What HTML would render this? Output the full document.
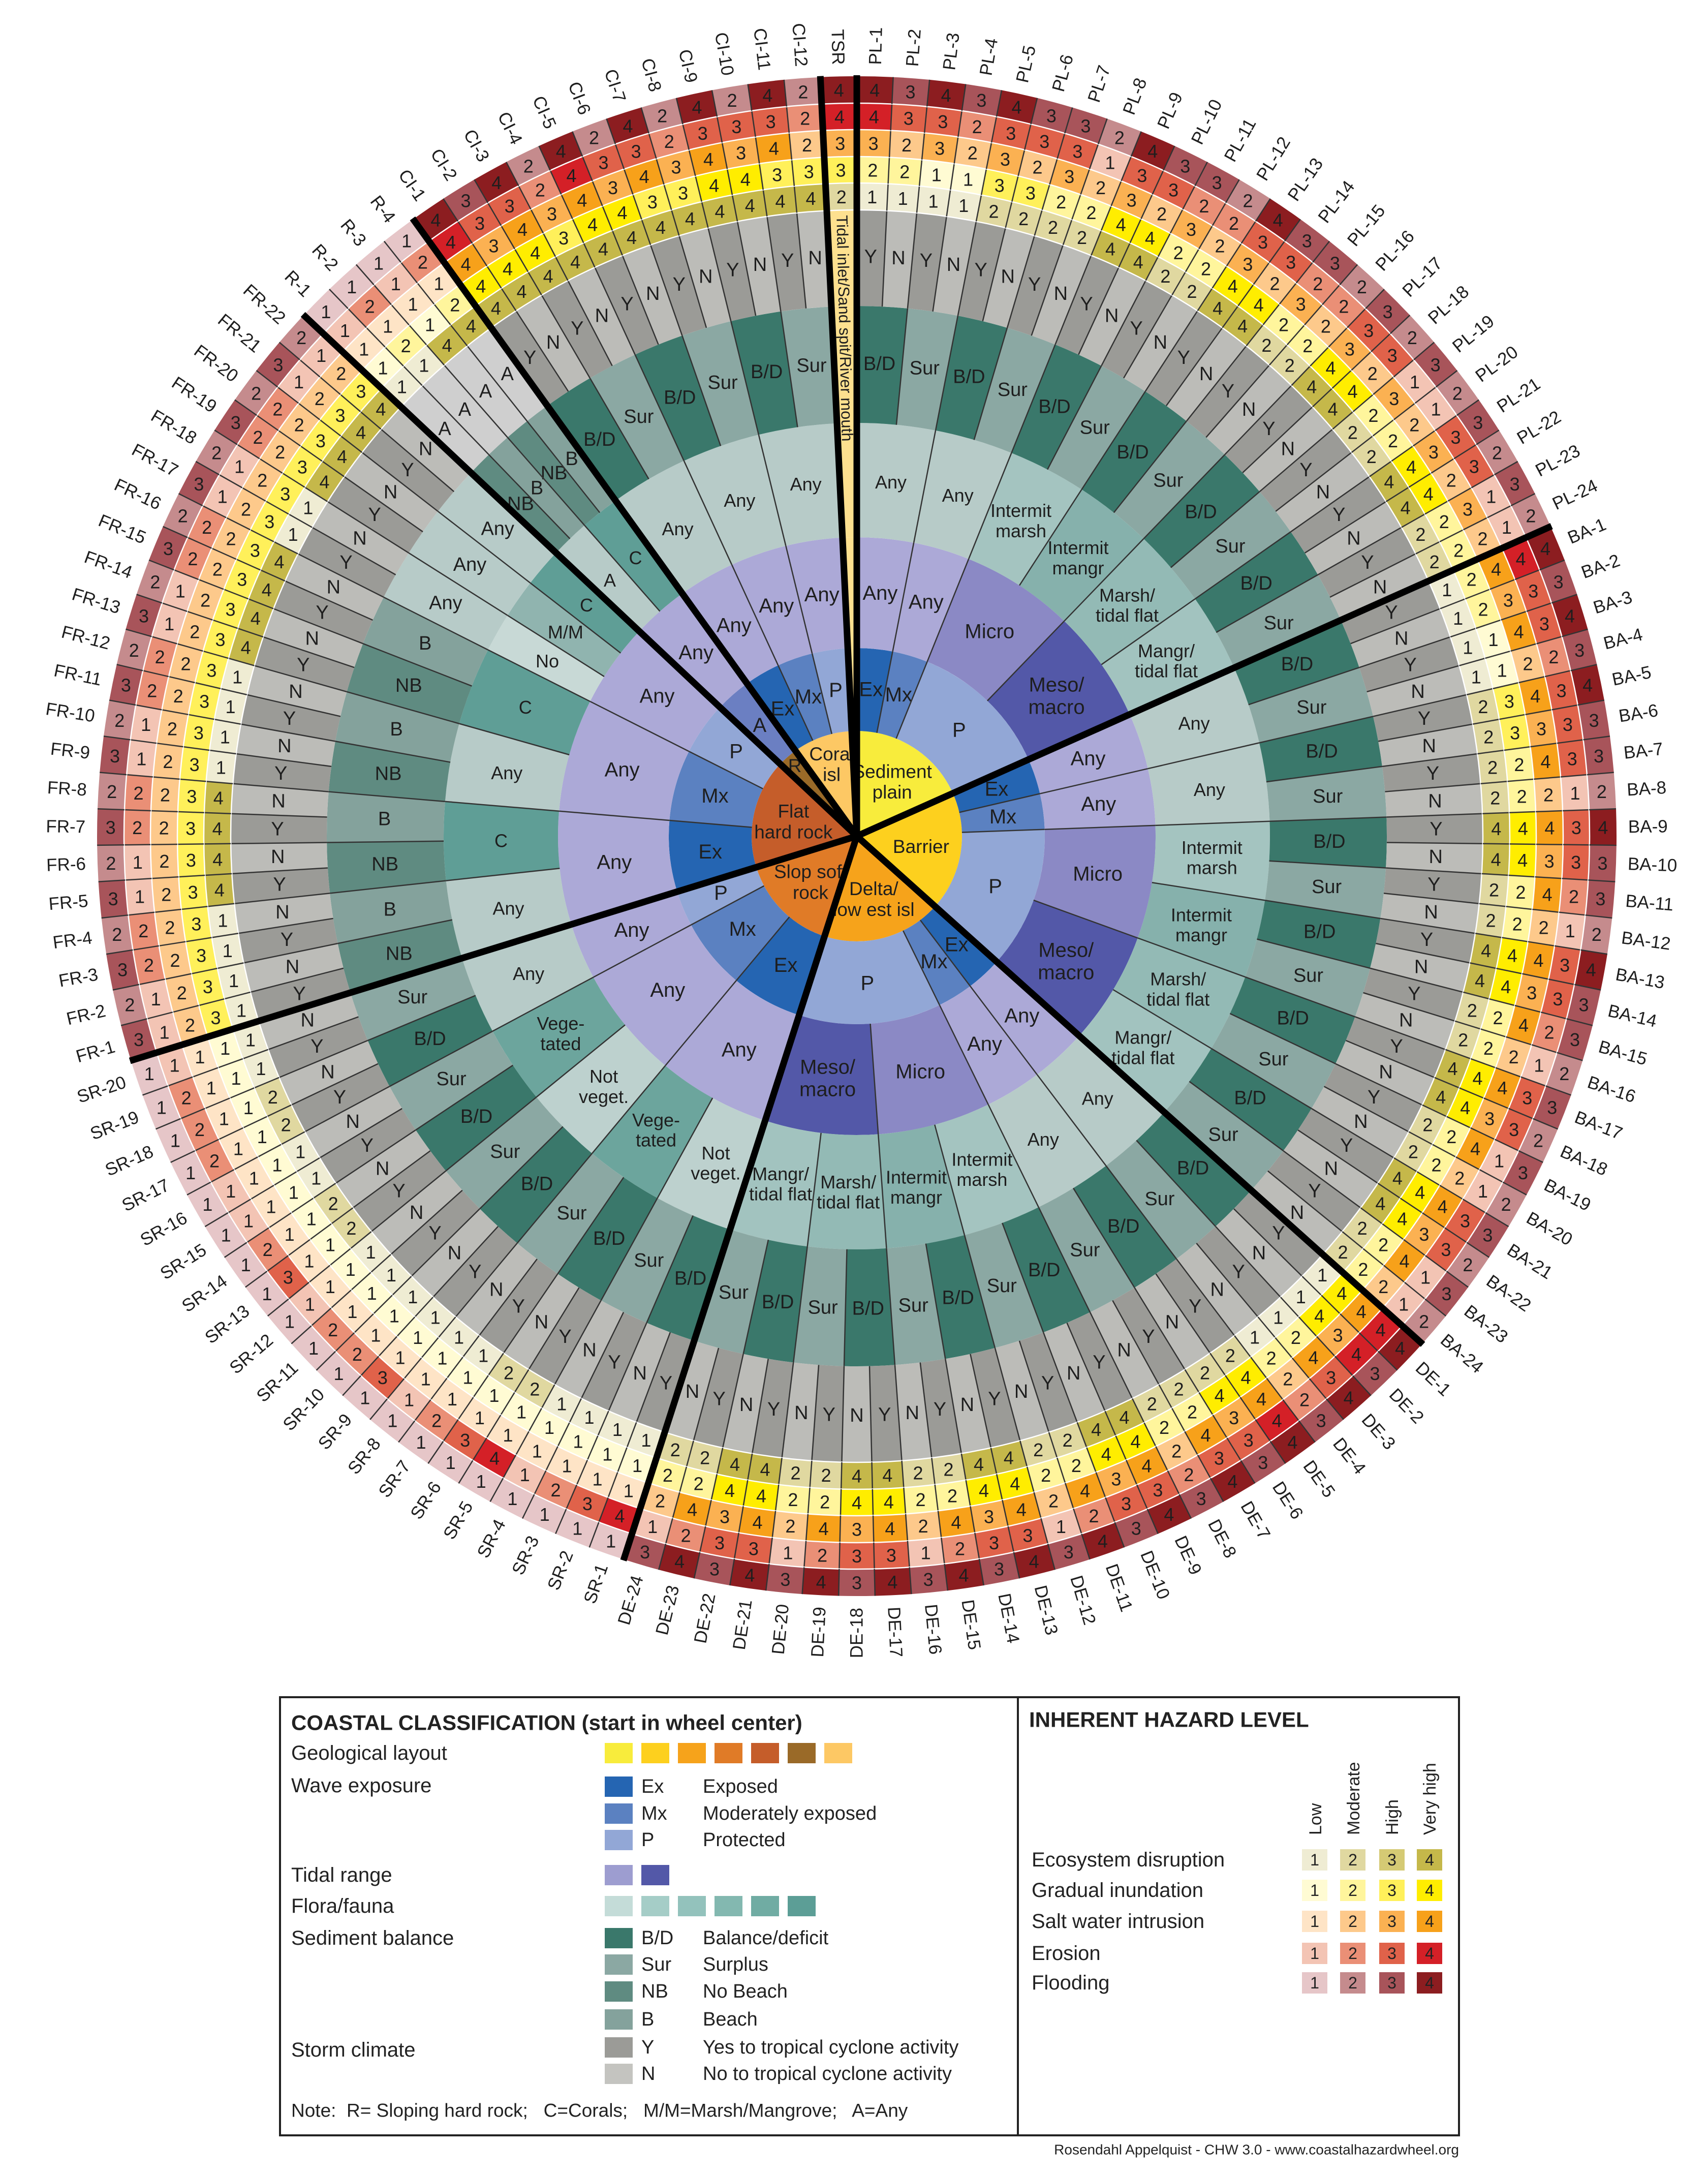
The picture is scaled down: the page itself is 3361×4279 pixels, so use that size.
<!DOCTYPE html>
<html><head><meta charset="utf-8"><title>Coastal Hazard Wheel</title>
<style>
html,body{margin:0;padding:0;background:#fff;}
svg{display:block;font-family:"Liberation Sans",Arial,sans-serif;}
</style></head>
<body>
<svg id="wheel" xmlns="http://www.w3.org/2000/svg" width="3361" height="4279" viewBox="0 0 3361 4279">
<rect x="0" y="0" width="3361" height="4279" fill="#fff"/>
<g id="rings"></g>
<g id="legend" fill="#222">
  <rect x="551" y="3339" width="2320" height="862" fill="none" stroke="#222" stroke-width="4"/>
  <line x1="2003" y1="3339" x2="2003" y2="4201" stroke="#222" stroke-width="4"/>
  <text x="573" y="3389" font-size="42" font-weight="bold" dominant-baseline="central">COASTAL CLASSIFICATION (start in wheel center)</text>
  <text x="573" y="3449" font-size="40" dominant-baseline="central">Geological layout</text>
  <g>
    <rect x="1190" y="3429" width="55" height="40" fill="#f8ec3c"/>
    <rect x="1262" y="3429" width="55" height="40" fill="#fdd01e"/>
    <rect x="1334" y="3429" width="55" height="40" fill="#f6a31b"/>
    <rect x="1406" y="3429" width="55" height="40" fill="#e07b27"/>
    <rect x="1478" y="3429" width="55" height="40" fill="#c55d2a"/>
    <rect x="1550" y="3429" width="55" height="40" fill="#9a6a28"/>
    <rect x="1622" y="3429" width="55" height="40" fill="#fdc864"/>
  </g>
  <text x="573" y="3513" font-size="40" dominant-baseline="central">Wave exposure</text>
  <rect x="1190" y="3495" width="55" height="40" fill="#2565b2"/>
  <text x="1262" y="3515" font-size="38" dominant-baseline="central">Ex</text>
  <text x="1383" y="3515" font-size="38" dominant-baseline="central">Exposed</text>
  <rect x="1190" y="3548" width="55" height="40" fill="#5b81c1"/>
  <text x="1262" y="3568" font-size="38" dominant-baseline="central">Mx</text>
  <text x="1383" y="3568" font-size="38" dominant-baseline="central">Moderately exposed</text>
  <rect x="1190" y="3600" width="55" height="40" fill="#92a7d6"/>
  <text x="1262" y="3620" font-size="38" dominant-baseline="central">P</text>
  <text x="1383" y="3620" font-size="38" dominant-baseline="central">Protected</text>
  <text x="573" y="3689" font-size="40" dominant-baseline="central">Tidal range</text>
  <rect x="1190" y="3669" width="55" height="40" fill="#9d9dd0"/>
  <rect x="1262" y="3669" width="55" height="40" fill="#5358a8"/>
  <text x="573" y="3750" font-size="40" dominant-baseline="central">Flora/fauna</text>
  <g>
    <rect x="1190" y="3730" width="55" height="40" fill="#c4dcd8"/>
    <rect x="1262" y="3730" width="55" height="40" fill="#a5cdc7"/>
    <rect x="1334" y="3730" width="55" height="40" fill="#93c2bc"/>
    <rect x="1406" y="3730" width="55" height="40" fill="#83b8b0"/>
    <rect x="1478" y="3730" width="55" height="40" fill="#70aca3"/>
    <rect x="1550" y="3730" width="55" height="40" fill="#5c9e96"/>
  </g>
  <text x="573" y="3813" font-size="40" dominant-baseline="central">Sediment balance</text>
  <rect x="1190" y="3793" width="55" height="40" fill="#3a786b"/>
  <text x="1262" y="3813" font-size="38" dominant-baseline="central">B/D</text>
  <text x="1383" y="3813" font-size="38" dominant-baseline="central">Balance/deficit</text>
  <rect x="1190" y="3845" width="55" height="40" fill="#8ba8a3"/>
  <text x="1262" y="3865" font-size="38" dominant-baseline="central">Sur</text>
  <text x="1383" y="3865" font-size="38" dominant-baseline="central">Surplus</text>
  <rect x="1190" y="3898" width="55" height="40" fill="#5f8b81"/>
  <text x="1262" y="3918" font-size="38" dominant-baseline="central">NB</text>
  <text x="1383" y="3918" font-size="38" dominant-baseline="central">No Beach</text>
  <rect x="1190" y="3953" width="55" height="40" fill="#84a29c"/>
  <text x="1262" y="3973" font-size="38" dominant-baseline="central">B</text>
  <text x="1383" y="3973" font-size="38" dominant-baseline="central">Beach</text>
  <text x="573" y="4033" font-size="40" dominant-baseline="central">Storm climate</text>
  <rect x="1190" y="4008" width="55" height="40" fill="#9b9b97"/>
  <text x="1262" y="4028" font-size="38" dominant-baseline="central">Y</text>
  <text x="1383" y="4028" font-size="38" dominant-baseline="central">Yes to tropical cyclone activity</text>
  <rect x="1190" y="4060" width="55" height="40" fill="#c4c4c0"/>
  <text x="1262" y="4080" font-size="38" dominant-baseline="central">N</text>
  <text x="1383" y="4080" font-size="38" dominant-baseline="central">No to tropical cyclone activity</text>
  <text x="573" y="4152" font-size="37" dominant-baseline="central" xml:space="preserve">Note:  R= Sloping hard rock;   C=Corals;   M/M=Marsh/Mangrove;   A=Any</text>

  <text x="2025" y="3383" font-size="42" font-weight="bold" dominant-baseline="central">INHERENT HAZARD LEVEL</text>
  <text transform="translate(2600,3610) rotate(-90)" font-size="34">Low</text>
  <text transform="translate(2675,3610) rotate(-90)" font-size="34">Moderate</text>
  <text transform="translate(2751,3610) rotate(-90)" font-size="34">High</text>
  <text transform="translate(2825,3610) rotate(-90)" font-size="34">Very high</text>
  <g id="hazlegend"></g>
  <text x="2871" y="4229" font-size="28" text-anchor="end" dominant-baseline="central">Rosendahl Appelquist - CHW 3.0 - www.coastalhazardwheel.org</text>
</g>
</svg>
<script>
// ---------------- DATA ----------------
const sectorCodes = ['PL','BA','DE','SR','FR','R','CI','TSR'];
const sectorCounts = [24,24,24,20,22,4,12,1];

const ecosystem = [
 1,1,1,1,2,2,2,2,4,4,2,2,4,4,2,2,4,4,2,2,4,4,2,2,
 1,1,1,1,2,2,2,2,4,4,2,2,4,4,2,2,4,4,2,2,4,4,2,2,
 1,1,1,1,2,2,2,2,4,4,2,2,4,4,2,2,4,4,2,2,4,4,2,2,
 1,1,1,1,2,2,1,1,1,1,1,1,2,2,1,1,2,2,1,1,
 1,1,1,1,4,4,4,4,1,1,1,1,4,4,4,4,1,1,4,4,4,4,
 1,1,4,4,
 4,4,4,4,4,4,4,4,4,4,4,4,
 2];
const inundation = [
 2,2,1,1,3,3,2,2,4,4,2,2,4,4,2,2,4,4,2,2,4,4,2,2,
 2,2,1,1,3,3,2,2,4,4,2,2,4,4,2,2,4,4,2,2,4,4,2,2,
 4,4,2,2,4,4,2,2,4,4,2,2,4,4,2,2,4,4,2,2,4,4,2,2,
 1,1,1,1,1,1,1,1,1,1,1,1,1,1,1,1,1,1,1,1,
 3,3,3,3,3,3,3,3,3,3,3,3,3,3,3,3,3,3,3,3,3,3,
 1,2,1,2,
 4,4,4,3,4,4,3,3,4,4,3,3,
 3];
const saltIntrusion = [
 3,2,3,2,3,2,3,2,3,2,3,2,3,2,3,2,3,2,3,2,3,2,3,2,
 4,3,4,2,4,3,4,2,4,3,4,2,4,3,4,2,4,3,4,2,4,3,4,2,
 4,3,4,2,4,3,4,2,4,3,4,2,4,3,4,2,4,3,4,2,4,3,4,2,
 1,1,1,1,1,1,1,1,1,1,1,1,1,1,1,1,1,1,1,1,
 2,2,2,2,2,2,2,2,2,2,2,2,2,2,2,2,2,2,2,2,2,2,
 1,1,1,1,
 4,3,4,3,4,3,4,3,4,3,4,2,
 3];
const erosion = [
 4,3,3,2,3,3,3,1,3,3,2,2,3,3,2,2,3,3,1,1,3,3,1,1,
 4,3,3,2,3,3,3,1,3,3,2,1,3,3,2,1,3,3,1,1,3,3,1,1,
 4,4,3,2,4,3,3,2,3,3,2,1,3,3,2,1,3,3,2,1,3,3,2,1,
 4,3,2,1,4,3,2,1,3,2,2,1,3,2,1,1,2,2,2,1,
 1,1,2,2,1,1,2,2,1,1,2,2,1,1,2,2,1,1,2,2,1,1,
 1,2,1,2,
 4,3,3,2,4,3,3,2,3,3,3,2,
 4];
const flooding = [
 4,3,4,3,4,3,3,2,4,3,3,2,4,3,3,2,3,2,3,2,3,2,3,2,
 4,3,4,3,4,3,3,2,4,3,3,2,4,3,3,2,3,2,3,2,3,2,3,2,
 4,3,4,3,4,3,4,3,4,3,4,3,4,3,4,3,4,3,4,3,4,3,4,3,
 1,1,1,1,1,1,1,1,1,1,1,1,1,1,1,1,1,1,1,1,
 3,2,3,2,3,2,3,2,3,2,3,2,3,2,3,2,3,2,3,2,3,2,
 1,1,1,1,
 4,3,4,2,4,2,4,2,4,2,4,2,
 4];
const storm = ['YNYNYNYNYNYNYNYNYNYNYNYN','YNYNYNYNYNYNYNYNYNYNYNYN','YNYNYNYNYNYNYNYNYNYNYNYN',
  'YNYNYNYNYNYNYNYNYNYN','YNYNYNYNYNYNYNYNYNYNYN','AAAA','YNYNYNYNYNYN','-'].join('').split('');

const geoGroups = [['Sediment|plain',24],['Barrier',24],['Delta/|low est isl',24],['Slop soft|rock',20],['Flat|hard rock',22],['R',4],['Coral|isl',12],['',1]];
const waveGroups = [['Ex',4],['Mx',4],['P',16],['Ex',4],['Mx',4],['P',16],['Ex',4],['Mx',4],['P',16],
  ['Ex',8],['Mx',8],['P',4],['Ex',8],['Mx',8],['P',6],['A',4],['Ex',4],['Mx',4],['P',4],['',1]];
const tidalGroups = [['Any',4],['Any',4],['Micro',8],['Meso/|macro',8],['Any',4],['Any',4],['Micro',8],['Meso/|macro',8],
  ['Any',4],['Any',4],['Micro',8],['Meso/|macro',8],['Any',8],['Any',8],['Any',4],['Any',8],['Any',8],['Any',6],
  ['Any',4],['Any',4],['Any',4],['Any',4],['',1]];
const floraGroups = [
  ['Any',4],['Any',4],['Intermit|marsh',4],['Intermit|mangr',4],['Marsh/|tidal flat',4],['Mangr/|tidal flat',4],
  ['Any',4],['Any',4],['Intermit|marsh',4],['Intermit|mangr',4],['Marsh/|tidal flat',4],['Mangr/|tidal flat',4],
  ['Any',4],['Any',4],['Intermit|marsh',4],['Intermit|mangr',4],['Marsh/|tidal flat',4],['Mangr/|tidal flat',4],
  ['Not|veget.',4],['Vege-|tated',4],['Not|veget.',4],['Vege-|tated',4],['Any',4],
  ['Any',4],['C',4],['Any',4],['C',4],['No',2],['M/M',2],['C',2],
  ['A',2],['C',2],
  ['Any',4],['Any',4],['Any',4],['',1]];
const sedimentGroups = [
  ['B/D',2],['Sur',2],['B/D',2],['Sur',2],['B/D',2],['Sur',2],['B/D',2],['Sur',2],['B/D',2],['Sur',2],['B/D',2],['Sur',2],
  ['B/D',2],['Sur',2],['B/D',2],['Sur',2],['B/D',2],['Sur',2],['B/D',2],['Sur',2],['B/D',2],['Sur',2],['B/D',2],['Sur',2],
  ['B/D',2],['Sur',2],['B/D',2],['Sur',2],['B/D',2],['Sur',2],['B/D',2],['Sur',2],['B/D',2],['Sur',2],['B/D',2],['Sur',2],
  ['B/D',2],['Sur',2],['B/D',2],['Sur',2],['B/D',2],['Sur',2],['B/D',2],['Sur',2],['B/D',2],['Sur',2],
  ['NB',2],['B',2],['NB',2],['B',2],['NB',2],['B',2],['NB',2],['B',2],['Any',2],['Any',2],['Any',2],
  ['NB',1],['B',1],['NB',1],['B',1],
  ['B/D',2],['Sur',2],['B/D',2],['Sur',2],['B/D',2],['Sur',2],['',1]];

// ---------------- STYLE ----------------
const cx = 1686, cy = 1645;
const TOTAL = sectorCounts.reduce((a,b)=>a+b,0);
const TSRC = '#fde08f';
const geoColors = {'Sediment|plain':'#f8ec3c','Barrier':'#fdd01e','Delta/|low est isl':'#f6a31b','Slop soft|rock':'#e07b27','Flat|hard rock':'#c55d2a','R':'#9a6a28','Coral|isl':'#fdc864'};
const waveColors = {'Ex':'#2565b2','Mx':'#5b81c1','P':'#92a7d6','A':'#6b7fc2'};
const tidalColors = {'Any':'#aca9d7','Micro':'#8b89c5','Meso/|macro':'#5358a8'};
const floraColors = {'Any':'#b7cbc8','Intermit|marsh':'#a4c4c0','Intermit|mangr':'#86b1ac','Marsh/|tidal flat':'#93bab5','Mangr/|tidal flat':'#a2c3bf',
  'Not|veget.':'#bdd1ce','Vege-|tated':'#6ca59d','C':'#5f9e96','No':'#c8d9d6','M/M':'#90b4af','A':'#b7cbc8'};
const sedColors = {'B/D':'#3a786b','Sur':'#8ba8a3','NB':'#5f8b81','B':'#84a29c','Any':'#b7cbc8'};
const stormColors = {'Y':'#9b9b97','N':'#bcbcb8','A':'#cfcfcf'};
const hazardRings = [
  {name:'ecosystem', vals:ecosystem, r0:1232, r1:1285, colors:['#efecd3','#e0d8a0','#d5ca74','#c5b84a']},
  {name:'inundation', vals:inundation, r0:1285, r1:1337, colors:['#fffbd3','#fff59c','#fff05a','#ffed00']},
  {name:'salt-intrusion', vals:saltIntrusion, r0:1337, r1:1390, colors:['#fee4c6','#fdc98b','#fbb152','#f7a11a']},
  {name:'erosion', vals:erosion, r0:1390, r1:1442, colors:['#f3c4b4','#ea8f76','#e0624a','#d42027']},
  {name:'flooding', vals:flooding, r0:1442, r1:1495, colors:['#e6c6c8','#c58b8d','#a8545a','#8c1d20']}
];

// ---------------- HELPERS ----------------
const NS = 'http://www.w3.org/2000/svg';
const root = document.getElementById('rings');
function angleOf(i){ return i*360/TOTAL; }
function polar(r,a){ const t=a*Math.PI/180; return [ (cx+r*Math.sin(t)).toFixed(2), (cy-r*Math.cos(t)).toFixed(2) ]; }
function arcPath(r0,r1,a0,a1){
  const lg=(a1-a0)>180?1:0;
  const p1=polar(r1,a0),p2=polar(r1,a1),p3=polar(r0,a1),p4=polar(r0,a0);
  if(r0<=0) return 'M'+cx+','+cy+'L'+p1+'A'+r1+','+r1+' 0 '+lg+' 1 '+p2+'Z';
  return 'M'+p1+'A'+r1+','+r1+' 0 '+lg+' 1 '+p2+'L'+p3+'A'+r0+','+r0+' 0 '+lg+' 0 '+p4+'Z';
}
function addText(parent, x, y, label, size){
  const t=document.createElementNS(NS,'text');
  t.setAttribute('x',x); t.setAttribute('y',y);
  t.setAttribute('font-size',size); t.setAttribute('text-anchor','middle');
  t.setAttribute('dominant-baseline','central'); t.setAttribute('fill','#1e1e1e');
  const lines=label.split('|');
  lines.forEach((ln,k)=>{
    const s=document.createElementNS(NS,'tspan');
    s.setAttribute('x',x);
    s.setAttribute('dy', k===0 ? (-(lines.length-1)*0.55)+'em' : '1.1em');
    s.textContent=ln;
    t.appendChild(s);
  });
  parent.appendChild(t);
  return t;
}
function addLine(parent,r0,r1,a,w,color){
  const p0=polar(r0,a),p1=polar(r1,a);
  const l=document.createElementNS(NS,'line');
  l.setAttribute('x1',p0[0]); l.setAttribute('y1',p0[1]);
  l.setAttribute('x2',p1[0]); l.setAttribute('y2',p1[1]);
  l.setAttribute('stroke',color); l.setAttribute('stroke-width',w);
  l.setAttribute('stroke-linecap', w>5?'butt':'butt');
  parent.appendChild(l);
  return l;
}
function labelRadius(ring, lab){
  if(ring==='geo'){ if(lab==='R') return 185; if(lab.indexOf('Coral')===0) return 150; return 128; }
  return {wave:290, tidal:480, flora:700, sediment:930}[ring];
}
function drawGroups(groups, colors, r0, r1, ring, fs){
  const g=document.createElementNS(NS,'g');
  
  
  root.appendChild(g);
  let idx=0;
  groups.forEach(([lab,n])=>{
    const a0=angleOf(idx), a1=angleOf(idx+n);
    const p=document.createElementNS(NS,'path');
    p.setAttribute('d',arcPath(r0,r1,a0,a1));
    p.setAttribute('fill', lab==='' ? TSRC : colors[lab]);
    
    
    g.appendChild(p);
    if(lab!==''){
      const pt=polar(labelRadius(ring,lab),(a0+a1)/2);
      const t=addText(g,pt[0],pt[1],lab,fs);
      
      
    }
    if(ring!=='geo'){
      const l=addLine(g,r0,r1,a0,2.5,'#333');
      
      
    }
    idx+=n;
  });
}

// ---------------- DRAW ----------------
drawGroups(geoGroups, geoColors, 0, 207, 'geo', 37);
drawGroups(waveGroups, waveColors, 207, 370, 'wave', 40);
drawGroups(tidalGroups, tidalColors, 370, 588, 'tidal', 40);
drawGroups(floraGroups, floraColors, 588, 813, 'flora', 36);
drawGroups(sedimentGroups, sedColors, 813, 1043, 'sediment', 38);

// storm ring
const sg=document.createElementNS(NS,'g');


root.appendChild(sg);
storm.forEach((s,i)=>{
  const a0=angleOf(i), a1=angleOf(i+1);
  const p=document.createElementNS(NS,'path');
  p.setAttribute('d',arcPath(1043,1232,a0,a1));
  p.setAttribute('fill', s==='-' ? TSRC : stormColors[s]);
  
  
  sg.appendChild(p);
  if(s!=='-'){
    const pt=polar(1140,(a0+a1)/2);
    const t=addText(sg,pt[0],pt[1],s,38);
    
    
  }
  const l=addLine(sg,1043,1232,a0,2.5,'#333');
  
  
});

// hazard rings
hazardRings.forEach(ring=>{
  const g=document.createElementNS(NS,'g');
  
  
  root.appendChild(g);
  ring.vals.forEach((v,i)=>{
    const a0=angleOf(i), a1=angleOf(i+1);
    const p=document.createElementNS(NS,'path');
    p.setAttribute('d',arcPath(ring.r0,ring.r1,a0,a1));
    p.setAttribute('fill', ring.colors[v-1]);
    
    
    g.appendChild(p);
    const pt=polar((ring.r0+ring.r1)/2,(a0+a1)/2);
    const t=addText(g,pt[0],pt[1],String(v),36);
    
    
  });
  const c=document.createElementNS(NS,'circle');
  c.setAttribute('cx',cx); c.setAttribute('cy',cy); c.setAttribute('r',ring.r0);
  c.setAttribute('fill','none'); c.setAttribute('stroke','#fff'); c.setAttribute('stroke-width','2.5');
  
  
  g.appendChild(c);
  ring.vals.forEach((v,i)=>{
    const l=addLine(g,ring.r0,ring.r1,angleOf(i),2.5,'#333');
    
    
  });
});

// TSR stripe text
(function(){
  let start=0; for(let k=0;k<sectorCodes.length-1;k++) start+=sectorCounts[k];
  const mid=angleOf(start+0.5);
  const pt=polar(1222,mid);
  const t=document.createElementNS(NS,'text');
  t.setAttribute('transform','translate('+pt[0]+','+pt[1]+') rotate('+(mid+90)+')');
  t.setAttribute('font-size','31'); t.setAttribute('dominant-baseline','central'); t.setAttribute('fill','#1e1e1e');
  t.textContent='Tidal inlet/Sand spit/River mouth';
  
  
  root.appendChild(t);
})();

// thick sector boundaries
(function(){
  let idx=0;
  sectorCounts.forEach((n)=>{
    const l=addLine(root,0,1497,angleOf(idx),13,'#000');
    
    
    idx+=n;
  });
})();

// outer segment labels
(function(){
  const g=document.createElementNS(NS,'g');
  
  
  root.appendChild(g);
  let idx=0;
  sectorCodes.forEach((code,k)=>{
    for(let j=0;j<sectorCounts[k];j++){
      const name = code==='TSR' ? 'TSR' : code+'-'+(j+1);
      const mid=angleOf(idx+0.5);
      const pt=polar(1518,mid);
      const t=document.createElementNS(NS,'text');
      const right = mid<180;
      t.setAttribute('transform','translate('+pt[0]+','+pt[1]+') rotate('+(right?mid-90:mid+90)+')');
      t.setAttribute('text-anchor', right?'start':'end');
      t.setAttribute('dominant-baseline','central');
      t.setAttribute('font-size','35'); t.setAttribute('fill','#1e1e1e');
      t.textContent=name;
      
      
      g.appendChild(t);
      idx++;
    }
  });
})();

// hazard legend grid
(function(){
  const rowsL=['Ecosystem disruption','Gradual inundation','Salt water intrusion','Erosion','Flooding'];
  const rowY=[3659,3719,3780,3843,3901];
  const colX=[2562,2637,2714,2788];
  const hl=document.getElementById('hazlegend');
  hazardRings.forEach((ring,r)=>{
    const t=document.createElementNS(NS,'text');
    t.setAttribute('x',2030); t.setAttribute('y',rowY[r]);
    t.setAttribute('font-size','40'); t.setAttribute('dominant-baseline','central');
    t.textContent=rowsL[r];
    
    
    hl.appendChild(t);
    ring.colors.forEach((c,k)=>{
      const rc=document.createElementNS(NS,'rect');
      rc.setAttribute('x',colX[k]); rc.setAttribute('y',rowY[r]-21);
      rc.setAttribute('width',50); rc.setAttribute('height',42); rc.setAttribute('fill',c);
      
      
      hl.appendChild(rc);
      const d=document.createElementNS(NS,'text');
      d.setAttribute('x',colX[k]+25); d.setAttribute('y',rowY[r]);
      d.setAttribute('font-size','32'); d.setAttribute('text-anchor','middle'); d.setAttribute('dominant-baseline','central');
      d.textContent=String(k+1);
      
      
      hl.appendChild(d);
    });
  });
})();
</script>
</body></html>
